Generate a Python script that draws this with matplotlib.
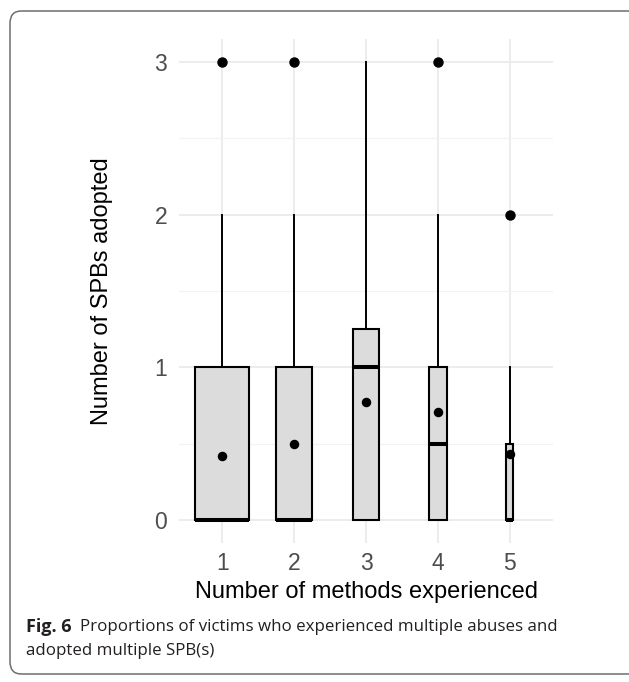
import matplotlib
matplotlib.use("Agg")
import matplotlib.pyplot as plt
from matplotlib.patches import FancyBboxPatch

categories = ["1", "2", "3", "4", "5"]
q1 = [0, 0, 0, 0, 0]
medians = [0, 0, 1, 0.5, 0]
q3 = [1, 1, 1.25, 1, 0.5]
whislo = [0, 0, 0, 0, 0]
whishi = [2, 2, 3, 2, 1]
outliers = [[3], [3], [], [3], [2]]
means = [0.42, 0.5, 0.77, 0.71, 0.43]
box_widths = [0.75, 0.5, 0.36, 0.24, 0.1]

fig = plt.figure(figsize=(6.29, 6.82), dpi=100)
ax = fig.add_axes([0.2846, 0.2038, 0.5946, 0.739])

stats = []
for i, c in enumerate(categories):
    stats.append(dict(label=c, q1=q1[i], med=medians[i], q3=q3[i],
                      whislo=whislo[i], whishi=whishi[i], fliers=outliers[i]))
pos = list(range(1, len(categories) + 1))
ax.bxp(stats, positions=pos, widths=box_widths, patch_artist=True,
       showcaps=False,
       boxprops=dict(facecolor="#DCDCDC", edgecolor="black", linewidth=1.5),
       medianprops=dict(color="black", linewidth=2.9, solid_capstyle="butt"),
       whiskerprops=dict(color="black", linewidth=1.4),
       flierprops=dict(marker="o", markerfacecolor="black", markeredgecolor="black",
                       markersize=6.5),
       zorder=3)
ax.scatter(pos, means, s=34, color="black", zorder=5)

ax.set_xlim(0.4, 5.6)
ax.set_ylim(-0.15, 3.15)
ax.set_xticks(pos)
ax.set_xticklabels(categories)
ax.set_yticks([0, 1, 2, 3])
ax.set_yticks([0.5, 1.5, 2.5], minor=True)
ax.grid(True, which="major", color="#EBEBEB", linewidth=1.3, zorder=0)
ax.grid(True, which="minor", axis="y", color="#F2F2F2", linewidth=0.8, zorder=0)
ax.set_axisbelow(True)
for s in ax.spines.values():
    s.set_visible(False)
ax.tick_params(axis="both", which="both", length=0, labelsize=16.5,
               labelcolor="#4D4D4D")
ax.tick_params(axis="y", pad=8.5)
ax.tick_params(axis="x", pad=6.5)
for lab in ax.get_xticklabels() + ax.get_yticklabels():
    lab.set_family("Liberation Sans")

ax.set_xlabel("Number of methods experienced", fontsize=17,
              family="Liberation Sans", labelpad=4)
ax.set_ylabel("Number of SPBs adopted", fontsize=17,
              family="Liberation Sans", labelpad=30)

frame = FancyBboxPatch((10 / 629, 8 / 682), 640 / 629, 663 / 682,
                       boxstyle="round,pad=0,rounding_size=0.018",
                       transform=fig.transFigure, fill=False,
                       edgecolor="#6E6E6E", linewidth=1.1)
fig.add_artist(frame)

cap_color = "#231F20"
y1 = 1 - 627 / 682
t_fig = fig.text(26 / 629, y1, "Fig. 6", fontsize=13, family="Open Sans",
                 weight="bold", va="center", ha="left", color=cap_color)
fig.canvas.draw()
bb = t_fig.get_window_extent(renderer=fig.canvas.get_renderer())
x_rest = (bb.x1 + 8) / fig.bbox.width
fig.text(x_rest, y1,
         "Proportions of victims who experienced multiple abuses and",
         fontsize=12.2, family="Open Sans", va="center", ha="left", color=cap_color)
fig.text(26 / 629, 1 - 651 / 682, "adopted multiple SPB(s)",
         fontsize=12.2, family="Open Sans", va="center", ha="left", color=cap_color)

fig.savefig("out.png", dpi=100)
